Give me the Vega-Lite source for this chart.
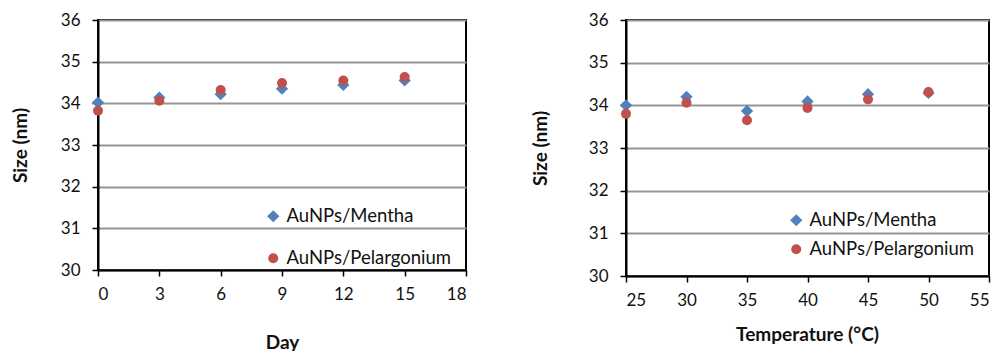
{
  "$schema": "https://vega.github.io/schema/vega-lite/v6.json",
  "autosize": {"type": "pad"},
  "padding": {"left": 10, "top": 10, "right": 5, "bottom": 0},
  "background": "white",
  "bounds": "flush",
  "spacing": 160,
  "config": {
    "font": "Lato",
    "view": {"stroke": "black", "strokeWidth": 2},
    "axis": {
      "labelFont": "Lato", "labelFontSize": 17, "labelColor": "#111",
      "titleFont": "Lato", "titleFontSize": 19, "titleFontWeight": "bold", "titleColor": "#111",
      "domainColor": "black", "domainWidth": 2,
      "tickColor": "black", "tickWidth": 1.5, "tickSize": 6,
      "gridColor": "#969696", "gridWidth": 2
    },
    "legend": {
      "labelFont": "Lato", "labelFontSize": 18.5, "labelColor": "#111", "labelLimit": 0,
      "padding": 0, "labelOffset": 4, "symbolStrokeWidth": 0
    }
  },
  "datasets": {
    "day": [
      {"day": 0, "series": "AuNPs/Mentha", "size": 34.02},
      {"day": 3, "series": "AuNPs/Mentha", "size": 34.14},
      {"day": 6, "series": "AuNPs/Mentha", "size": 34.22},
      {"day": 9, "series": "AuNPs/Mentha", "size": 34.35},
      {"day": 12, "series": "AuNPs/Mentha", "size": 34.44},
      {"day": 15, "series": "AuNPs/Mentha", "size": 34.55},
      {"day": 0, "series": "AuNPs/Pelargonium", "size": 33.82},
      {"day": 3, "series": "AuNPs/Pelargonium", "size": 34.06},
      {"day": 6, "series": "AuNPs/Pelargonium", "size": 34.32},
      {"day": 9, "series": "AuNPs/Pelargonium", "size": 34.49},
      {"day": 12, "series": "AuNPs/Pelargonium", "size": 34.55},
      {"day": 15, "series": "AuNPs/Pelargonium", "size": 34.63}
    ],
    "temp": [
      {"temp": 25, "series": "AuNPs/Mentha", "size": 34.0},
      {"temp": 30, "series": "AuNPs/Mentha", "size": 34.2},
      {"temp": 35, "series": "AuNPs/Mentha", "size": 33.87},
      {"temp": 40, "series": "AuNPs/Mentha", "size": 34.09},
      {"temp": 45, "series": "AuNPs/Mentha", "size": 34.26},
      {"temp": 50, "series": "AuNPs/Mentha", "size": 34.29},
      {"temp": 25, "series": "AuNPs/Pelargonium", "size": 33.8},
      {"temp": 30, "series": "AuNPs/Pelargonium", "size": 34.06},
      {"temp": 35, "series": "AuNPs/Pelargonium", "size": 33.65},
      {"temp": 40, "series": "AuNPs/Pelargonium", "size": 33.94},
      {"temp": 45, "series": "AuNPs/Pelargonium", "size": 34.14},
      {"temp": 50, "series": "AuNPs/Pelargonium", "size": 34.31}
    ]
  },
  "resolve": {"scale": {"color": "independent", "shape": "independent", "size": "independent"}, "legend": {"color": "independent", "shape": "independent", "size": "independent"}},
  "hconcat": [
    {
      "width": 368, "height": 250,
      "data": {"name": "day"},
      "mark": {"type": "point", "filled": true, "opacity": 1},
      "encoding": {
        "x": {"field": "day", "type": "quantitative",
              "scale": {"domain": [0, 18], "nice": false, "zero": false},
              "axis": {"values": [0, 3, 6, 9, 12, 15, 18], "grid": false, "title": "Day",
                       "labelPadding": 10, "titleX": 184, "titleY": 78, "titleBaseline": "alphabetic"}},
        "y": {"field": "size", "type": "quantitative",
              "scale": {"domain": [30, 36], "nice": false, "zero": false},
              "axis": {"values": [30, 31, 32, 33, 34, 35, 36], "title": "Size (nm)",
                       "labelPadding": 12, "titleX": -68, "titleY": 125}},
        "color": {"field": "series", "type": "nominal",
                  "scale": {"domain": ["AuNPs/Mentha", "AuNPs/Pelargonium"], "range": ["#4F81BD", "#C0504D"]},
                  "legend": {"title": null, "orient": "none", "legendX": 166, "legendY": 187, "rowPadding": 23}},
        "shape": {"field": "series", "type": "nominal",
                  "scale": {"domain": ["AuNPs/Mentha", "AuNPs/Pelargonium"], "range": ["diamond", "circle"]},
                  "legend": {"title": null, "orient": "none", "legendX": 166, "legendY": 187, "rowPadding": 23}},
        "size": {"field": "series", "type": "nominal",
                  "scale": {"domain": ["AuNPs/Mentha", "AuNPs/Pelargonium"], "range": [150, 100]},
                  "legend": {"title": null, "orient": "none", "legendX": 166, "legendY": 187, "rowPadding": 23}}
      }
    },
    {
      "width": 363, "height": 256,
      "data": {"name": "temp"},
      "mark": {"type": "point", "filled": true, "opacity": 1},
      "encoding": {
        "x": {"field": "temp", "type": "quantitative",
              "scale": {"domain": [25, 55], "nice": false, "zero": false},
              "axis": {"values": [25, 30, 35, 40, 45, 50, 55], "grid": false, "title": "Temperature (°C)",
                       "labelPadding": 10, "titleX": 181, "titleY": 64, "titleBaseline": "alphabetic"}},
        "y": {"field": "size", "type": "quantitative",
              "scale": {"domain": [30, 36], "nice": false, "zero": false},
              "axis": {"values": [30, 31, 32, 33, 34, 35, 36], "title": "Size (nm)",
                       "labelPadding": 12, "titleX": -76, "titleY": 128}},
        "color": {"field": "series", "type": "nominal",
                  "scale": {"domain": ["AuNPs/Mentha", "AuNPs/Pelargonium"], "range": ["#4F81BD", "#C0504D"]},
                  "legend": {"title": null, "orient": "none", "legendX": 161, "legendY": 191, "rowPadding": 10}},
        "shape": {"field": "series", "type": "nominal",
                  "scale": {"domain": ["AuNPs/Mentha", "AuNPs/Pelargonium"], "range": ["diamond", "circle"]},
                  "legend": {"title": null, "orient": "none", "legendX": 161, "legendY": 191, "rowPadding": 10}},
        "size": {"field": "series", "type": "nominal",
                  "scale": {"domain": ["AuNPs/Mentha", "AuNPs/Pelargonium"], "range": [150, 100]},
                  "legend": {"title": null, "orient": "none", "legendX": 161, "legendY": 191, "rowPadding": 10}}
      }
    }
  ]
}
